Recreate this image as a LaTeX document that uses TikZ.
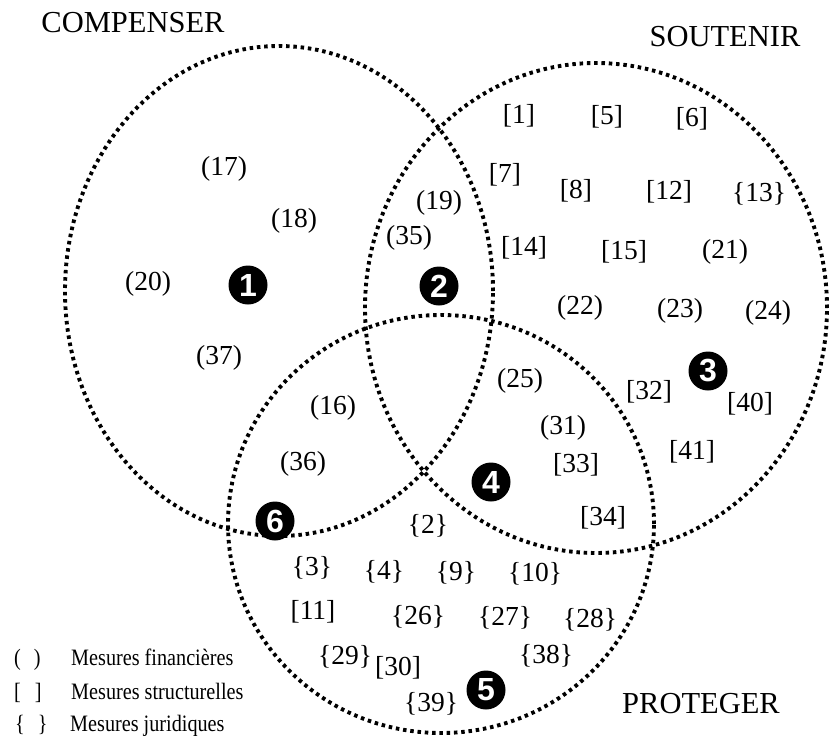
\documentclass[tikz,border=0pt]{standalone}
\usepackage{fontspec}
\setmainfont{Liberation Serif}
\newfontfamily\discfont{Liberation Sans}
\newfontfamily\legendfont[FakeStretch=0.86]{Liberation Serif}

\tikzset{
  setline/.style={line width=3.9pt, dash pattern=on 3.5pt off 3.8pt, line cap=butt},
  settitle/.style={font=\fontsize{30.5}{31}\selectfont, inner sep=0pt},
  item/.style={font=\fontsize{27.5}{28}\selectfont, inner sep=0pt},
  disc/.style={circle, fill=black, text=white, minimum size=39pt, inner sep=0pt,
               font=\discfont\bfseries\fontsize{32}{32}\selectfont},
  legsym/.style={anchor=base west, inner sep=0pt, font=\legendfont\fontsize{23.5}{24}\selectfont},
}

\begin{document}
\begin{tikzpicture}[x=1pt, y=-1pt]
  \useasboundingbox (0,0) rectangle (833,737);
  \fill[white] (0,0) rectangle (833,737);

  % the three sets
  \draw[setline] (279,291) ellipse [x radius=214pt, y radius=245pt];
  \draw[setline] (596,308) ellipse [x radius=231pt, y radius=245pt];
  \draw[setline] (441,524) ellipse [x radius=213pt, y radius=209pt];

  % set titles
  \node[settitle] (tComp) at (133,23) {COMPENSER};
  \node[settitle] (tSout) at (725,37) {SOUTENIR};
  \node[settitle] (tProt) at (701,704) {PROTEGER};

  % zone markers
  \node[disc] (z1) at (248,285) {1};
  \node[disc] (z2) at (439,286) {2};
  \node[disc] (z3) at (708,371) {3};
  \node[disc] (z4) at (491,482) {4};
  \node[disc] (z5) at (486,690) {5};
  \node[disc] (z6) at (275,521) {6};

  % zone 1
  \node[item] (m17) at (224,169) {(17)};
  \node[item] (m18) at (294,221) {(18)};
  \node[item] (m20) at (148,284) {(20)};
  \node[item] (m37) at (219,358) {(37)};

  % zone 2
  \node[item] (m19) at (439,203) {(19)};
  \node[item] (m35) at (409,238) {(35)};

  % zone 3
  \node[item] (m1)  at (519,116) {[1]};
  \node[item] (m5)  at (607,117) {[5]};
  \node[item] (m6)  at (692,119) {[6]};
  \node[item] (m7)  at (505,175) {[7]};
  \node[item] (m8)  at (576,191) {[8]};
  \node[item] (m12) at (669,192) {[12]};
  \node[item] (m13) at (759,194) {\{13\}};
  \node[item] (m14) at (524,248) {[14]};
  \node[item] (m15) at (624,252) {[15]};
  \node[item] (m21) at (725,252) {(21)};
  \node[item] (m22) at (580,308) {(22)};
  \node[item] (m23) at (680,311) {(23)};
  \node[item] (m24) at (768,313) {(24)};
  \node[item] (m32) at (649,392) {[32]};
  \node[item] (m40) at (750,404) {[40]};
  \node[item] (m41) at (692,452) {[41]};

  % zone 4
  \node[item] (m25) at (520,381) {(25)};
  \node[item] (m31) at (563,428) {(31)};
  \node[item] (m33) at (576,465) {[33]};
  \node[item] (m34) at (603,518) {[34]};

  % zone 6
  \node[item] (m16) at (333,408) {(16)};
  \node[item] (m36) at (303,464) {(36)};

  % zone 5
  \node[item] (m2)  at (428,526) {\{2\}};
  \node[item] (m3)  at (312,568) {\{3\}};
  \node[item] (m4)  at (384,572) {\{4\}};
  \node[item] (m9)  at (456,573) {\{9\}};
  \node[item] (m10) at (535,574) {\{10\}};
  \node[item] (m11) at (313,612) {[11]};
  \node[item] (m26) at (418,617) {\{26\}};
  \node[item] (m27) at (505,618) {\{27\}};
  \node[item] (m28) at (590,620) {\{28\}};
  \node[item] (m29) at (345,657) {\{29\}};
  \node[item] (m30) at (398,668) {[30]};
  \node[item] (m38) at (546,656) {\{38\}};
  \node[item] (m39) at (431,704) {\{39\}};

  % legend
  \node[legsym] (kFin) at (14,665) {(\hspace{13pt})};
  \node[legsym] (kStr) at (14,699) {[\hspace{14pt}]};
  \node[legsym] (kJur) at (15,731) {\{\hspace{13pt}\}};
  \node[legsym] (lFin) at (71,665) {Mesures financières};
  \node[legsym] (lStr) at (71,699) {Mesures structurelles};
  \node[legsym] (lJur) at (70,731) {Mesures juridiques};
\end{tikzpicture}
\end{document}
